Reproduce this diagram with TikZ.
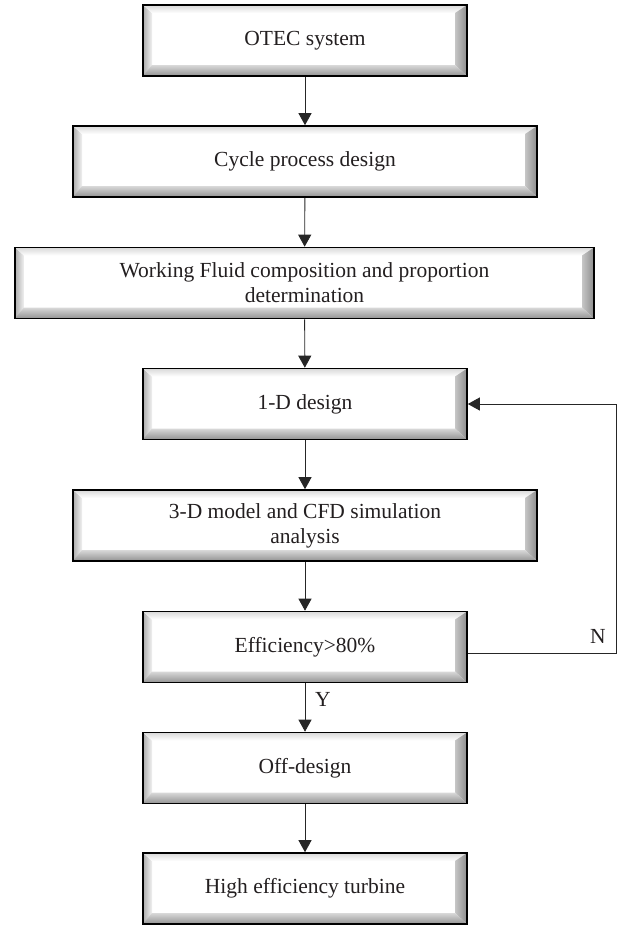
\documentclass[tikz,border=0pt]{standalone}
\usepackage{fontspec}
\setmainfont{Liberation Serif}
\usetikzlibrary{arrows.meta,calc}
\definecolor{txt}{HTML}{231F20}
\begin{document}
\begin{tikzpicture}[x=1pt,y=-1pt,
  bbox/.style={draw=black, line width=1.6pt, fill=white, inner sep=0pt,
    minimum width=#1, minimum height=71, align=center, text=txt,
    font=\fontsize{21.5}{25}\selectfont,
    path picture={
      \coordinate (sw) at (path picture bounding box.south west);
      \coordinate (ne) at (path picture bounding box.north east);
      \coordinate (nw) at (path picture bounding box.north west);
      \coordinate (se) at (path picture bounding box.south east);
      % left bevel
      \shade[left color=gray!65, right color=gray!10]
        (sw) -- (nw) -- ($(nw)+(9pt,-8pt)$) -- ($(sw)+(9pt,9pt)$) -- cycle;
      % top bevel
      \shade[top color=gray!30, bottom color=white]
        (nw) -- (ne) -- ($(ne)+(-12pt,-8pt)$) -- ($(nw)+(9pt,-8pt)$) -- cycle;
      % right bevel
      \shade[left color=gray!45, right color=gray!90]
        (ne) -- (se) -- ($(se)+(-12pt,11pt)$) -- ($(ne)+(-12pt,-8pt)$) -- cycle;
      % bottom bevel
      \shade[top color=gray!30, bottom color=gray!85]
        (sw) -- (se) -- ($(se)+(-12pt,11pt)$) -- ($(sw)+(9pt,11pt)$) -- cycle;
    }},
  arr/.style={draw=black!85, line width=0.9pt, -{Triangle[width=13pt,length=12pt]}},
  lab/.style={text=txt, font=\fontsize{21.5}{25}\selectfont, inner sep=0pt}
]
\useasboundingbox (0,0) rectangle (617,926);

\node[bbox=324] (b1) at (305,40.5) {OTEC system};
\node[bbox=464] (b2) at (305,161.5) {Cycle process design};
\node[bbox=579] (b3) at (304.5,283) {Working Fluid composition and proportion\\determination};
\node[bbox=324] (b4) at (305,404) {1-D design};
\node[bbox=464] (b5) at (305,525.5) {3-D model and CFD simulation\\analysis};
\node[bbox=324] (b6) at (305,647) {Efficiency>80\%};
\node[bbox=324] (b7) at (305,768) {Off-design};
\node[bbox=324] (b8) at (305,888.5) {High efficiency turbine};

\draw[arr] (b1) -- (b2);
\draw[arr] (b2) -- (b3);
\draw[arr] (b3) -- (b4);
\draw[arr] (b4) -- (b5);
\draw[arr] (b5) -- (b6);
\draw[arr] (b6) -- (b7);
\draw[arr] (b7) -- (b8);

\coordinate (fb) at (616,653);
\draw[arr] ([yshift=-6pt]b6.east) -- (fb) |- (b4.east);

\node[lab] (ylab) at (323,699) {Y};
\node[lab] (nlab) at (598,636) {N};
\end{tikzpicture}
\end{document}
